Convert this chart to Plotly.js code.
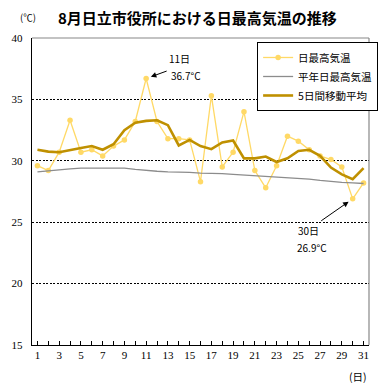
<!DOCTYPE html>
<html><head><meta charset="utf-8">
<script src="https://cdn.plot.ly/plotly-3.0.1.min.js"></script>
<style>body{margin:0;background:#fff}#c{width:388px;height:390px}</style>
</head><body><div id="c"></div>
<script>
const days = [1,2,3,4,5,6,7,8,9,10,11,12,13,14,15,16,17,18,19,20,21,22,23,24,25,26,27,28,29,30,31];
const dailyMax = [29.6,29.2,30.7,33.3,30.7,30.9,30.4,31.2,31.7,33.2,36.7,33.2,31.8,31.8,31.7,28.3,35.3,29.5,30.7,34.0,29.2,27.8,29.6,32.0,31.6,30.9,30.4,30.1,29.5,26.9,28.2];
const normalMax = [29.1,29.2,29.3,29.35,29.4,29.4,29.4,29.4,29.4,29.3,29.2,29.15,29.1,29.1,29.05,29.0,29.0,28.95,28.9,28.85,28.8,28.75,28.7,28.65,28.6,28.5,28.4,28.3,28.25,28.2,28.15];
const movingAvg = [30.9,30.75,30.7,30.9,31.05,31.2,30.9,31.35,32.5,33.1,33.25,33.3,32.9,31.25,31.7,31.2,30.95,31.5,31.65,30.2,30.2,30.35,29.9,30.2,30.8,30.9,30.4,29.45,28.9,28.5,29.4];
const xTicks = [1,3,5,7,9,11,13,15,17,19,21,23,25,27,29,31];
const yTicks = [15,20,25,30,35,40];
const seriesNames = ['日最高気温','平年日最高気温','5日間移動平均'];
const titleText = '8月日立市役所における日最高気温の推移';

const jp = '"Noto Sans CJK JP", "Noto Sans", sans-serif';
const serif = '"Liberation Serif", "DejaVu Serif", serif';

const traces = [
  {x: days, y: dailyMax, name: seriesNames[0], mode: 'lines+markers', type: 'scatter',
   line: {color: '#FFD966', width: 1.3}, marker: {color: '#FFD966', size: 5.5}},
  {x: days, y: normalMax, name: seriesNames[1], mode: 'lines', type: 'scatter',
   line: {color: '#8C8C8C', width: 1.3}},
  {x: days, y: movingAvg, name: seriesNames[2], mode: 'lines', type: 'scatter',
   line: {color: '#BF9000', width: 2.6}}
];

const layout = {
  width: 388, height: 390,
  margin: {l: 32, r: 10, t: 38, b: 45},
  paper_bgcolor: '#fff', plot_bgcolor: '#fff',
  showlegend: true,
  legend: {x: 0.668, y: 0.987, xanchor: 'left', yanchor: 'top',
    bordercolor: '#000', borderwidth: 1, bgcolor: '#fff',
    font: {family: jp, size: 10.5, color: '#000'}, tracegroupgap: 0, itemwidth: 30},
  xaxis: {range: [0.5, 31.5], tickvals: xTicks, ticktext: xTicks.map(String),
    showgrid: false, zeroline: false, showline: true, linecolor: '#000', linewidth: 1.2,
    ticks: 'inside', ticklen: 4, tickcolor: '#000',
    minor: {dtick: 1, ticks: 'inside', ticklen: 4, tickcolor: '#000', showgrid: false},
    tickfont: {family: serif, size: 11, color: '#000'}, fixedrange: true},
  yaxis: {range: [15, 40], tickvals: yTicks, ticktext: yTicks.map(String),
    showgrid: true, gridcolor: '#000', griddash: '2px,1.5px', gridwidth: 1,
    zeroline: false, showline: true, linecolor: '#000', linewidth: 1.2, ticks: '',
    ticklabelstandoff: 6,
    tickfont: {family: serif, size: 11, color: '#000'}, fixedrange: true},
  shapes: [
    {type: 'line', xref: 'paper', yref: 'paper', x0: 0, x1: 1, y0: 1, y1: 1, line: {color: '#888', width: 1.2}},
    {type: 'line', xref: 'paper', yref: 'paper', x0: 1, x1: 1, y0: 0, y1: 1, line: {color: '#888', width: 1.2}}
  ],
  annotations: [
    {xref: 'paper', yref: 'paper', x: 0.491, y: 1.068, xanchor: 'center', yanchor: 'middle',
     text: '<b>' + titleText + '</b>', showarrow: false, font: {family: jp, size: 15, color: '#000'}},
    {xref: 'paper', yref: 'paper', x: -0.012, y: 1.068, xanchor: 'center', yanchor: 'middle',
     text: '(℃)', showarrow: false, font: {family: jp, size: 9.5, color: '#000'}},
    {xref: 'paper', yref: 'paper', x: 1.0, y: -0.104, xanchor: 'right', yanchor: 'middle',
     text: '(日)', showarrow: false, font: {family: jp, size: 10.5, color: '#000'}},
    {x: days[10], y: dailyMax[10], xref: 'x', yref: 'y', text: '', showarrow: true,
     arrowhead: 2, arrowsize: 1.1, arrowwidth: 1, arrowcolor: '#000', ax: 22, ay: -8, standoff: 5},
    {x: 14.05, y: 38.35, xref: 'x', yref: 'y', text: '11日', showarrow: false,
     font: {family: jp, size: 10, color: '#000'}},
    {x: 14.66, y: 36.95, xref: 'x', yref: 'y', text: '36.7°C', showarrow: false,
     font: {family: jp, size: 10, color: '#000'}},
    {x: days[29], y: dailyMax[29], xref: 'x', yref: 'y', text: '', showarrow: true,
     arrowhead: 2, arrowsize: 1.1, arrowwidth: 1, arrowcolor: '#000', ax: -33, ay: 23, standoff: 5},
    {x: 25.95, y: 24.35, xref: 'x', yref: 'y', text: '30日', showarrow: false,
     font: {family: jp, size: 10, color: '#000'}},
    {x: 26.3, y: 22.95, xref: 'x', yref: 'y', text: '26.9°C', showarrow: false,
     font: {family: jp, size: 10, color: '#000'}}
  ]
};

Plotly.newPlot('c', traces, layout, {displayModeBar: false, staticPlot: true});
</script></body></html>
